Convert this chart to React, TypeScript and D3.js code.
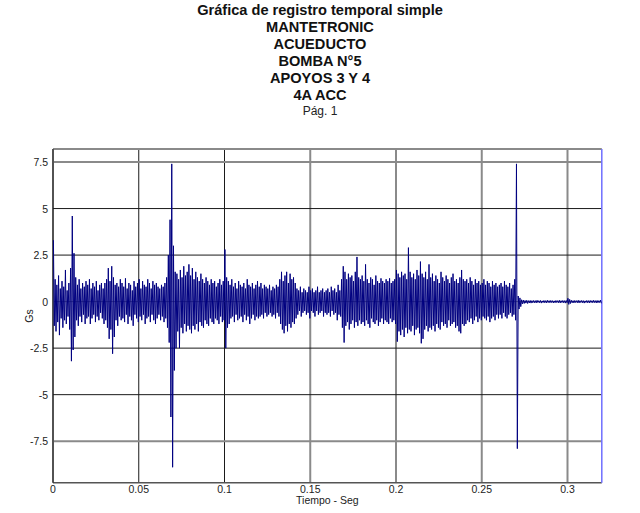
import React from "react";
import * as d3 from "d3";

const titleLines = [
  "Gráfica de registro temporal simple",
  "MANTETRONIC",
  "ACUEDUCTO",
  "BOMBA N°5",
  "APOYOS 3 Y 4",
  "4A ACC",
];
const pageLabel = "Pág. 1";
const xLabel = "Tiempo - Seg";
const yLabel = "Gs";

const xTicks = [0, 0.05, 0.1, 0.15, 0.2, 0.25, 0.3];
const xTickLabels = ["0", "0.05", "0.1", "0.15", "0.2", "0.25", "0.3"];
const yTicks = [7.5, 5, 2.5, 0, -2.5, -5, -7.5];
const yTickLabels = ["7.5", "5", "2.5", "0", "-2.5", "-5", "-7.5"];

// sample bin width (s)
const binWidth = 0.001;

// positive peaks per 1 ms bin
const peakHigh = [
  3.3, 1.2, 0.9, 1.4, 0.7, 1.1, 0.8, 1.7, 0.6, 1.0, 1.8, 4.6, 2.6, 1.3, 0.9, 1.2, 0.7, 1.0, 0.8, 1.1,
  0.9, 1.2, 0.7, 1.0, 0.8, 1.1, 0.6, 0.9, 1.0, 0.7, 1.0, 1.2, 1.8, 1.1, 1.9, 1.3, 0.9, 1.0, 0.8, 1.2,
  1.0, 0.8, 1.25, 0.7, 1.0, 0.9, 0.6, 1.1, 0.8, 1.0, 1.2, 0.7, 1.1, 0.9, 0.8, 1.2, 1.0, 0.7, 1.1, 0.9,
  1.0, 0.8, 0.7, 0.9, 0.8, 1.0, 1.3, 2.5, 4.4, 7.4, 3.0, 1.6, 1.5, 1.2, 1.7, 1.3, 1.9, 1.4, 1.6, 2.0,
  1.4, 1.8, 1.2, 1.6, 1.3, 1.1, 1.5, 1.2, 1.0, 1.3, 1.1, 0.9, 1.2, 1.0, 1.1, 0.8, 1.0, 1.2, 0.9, 1.1,
  2.8, 1.3, 1.1, 0.9, 1.2, 0.8, 1.0, 0.7, 1.1, 0.9, 0.8, 1.0, 0.7, 1.2, 0.9, 0.8, 1.0, 0.7, 0.9, 1.1,
  0.8, 1.0, 0.7, 0.9, 0.8, 0.7, 0.9, 0.6, 0.8, 0.7, 0.9, 0.8, 1.2, 1.6, 1.1, 1.4, 1.6, 1.0, 1.5, 1.2,
  1.3, 1.0, 0.7, 0.6, 0.8, 0.5, 0.7, 0.6, 0.5, 0.8, 0.6, 0.7, 0.5, 0.6, 0.8, 0.5, 0.6, 0.7, 0.5, 0.6,
  0.7, 0.5, 0.8, 0.6, 0.7, 0.5, 0.9, 0.6, 1.2, 1.9, 1.6, 1.2, 1.5, 1.3, 1.4, 1.1, 1.6, 2.4, 1.3, 1.2,
  1.4, 1.1, 2.0, 1.2, 1.0, 1.3, 1.2, 0.9, 1.4, 1.1, 1.0, 1.25, 1.1, 1.0, 1.2, 1.1, 1.25, 1.0, 1.1, 1.2,
  1.7, 1.5, 1.3, 1.6, 1.4, 1.5, 1.2, 2.9, 1.6, 1.3, 1.5, 1.2, 1.7, 1.4, 2.15, 1.5, 1.3, 1.6, 1.2, 2.0,
  1.3, 1.5, 1.1, 1.4, 1.2, 1.0, 1.6, 1.3, 1.1, 1.4, 1.2, 1.0, 1.3, 1.5, 1.1, 1.2, 1.0, 1.3, 1.7, 1.2,
  1.1, 1.2, 1.0, 1.3, 1.1, 0.9, 1.2, 1.0, 1.1, 0.9, 1.0, 1.2, 0.9, 1.1, 1.0, 0.8, 1.1, 0.9, 1.0, 0.8,
  0.9, 1.0, 0.8, 1.1, 0.9, 0.8, 1.0, 0.7, 0.9, 1.2, 7.4, 0.3, 0.2, 0.1, 0.08, 0.06, 0.07, 0.05, 0.06, 0.05,
  0.06, 0.05, 0.07, 0.05, 0.06, 0.04, 0.06, 0.05, 0.07, 0.05, 0.06, 0.05, 0.04, 0.06, 0.05, 0.07, 0.05, 0.06, 0.05, 0.06,
  0.18, 0.12, 0.07, 0.05, 0.06, 0.05, 0.07, 0.05, 0.06, 0.05, 0.04, 0.06, 0.05, 0.06, 0.05, 0.07, 0.05, 0.06, 0.05, 0.08,
];

// negative peaks per 1 ms bin
const peakLow = [
  -1.3, -1.6, -1.1, -1.8, -0.9, -1.4, -1.0, -1.2, -0.8, -1.5, -3.2, -2.6, -1.9, -1.0, -1.3, -0.8, -1.1, -0.7, -1.2, -0.9,
  -0.8, -1.2, -0.9, -0.7, -1.1, -0.8, -1.0, -0.6, -0.9, -1.2, -1.0, -1.4, -2.0, -1.5, -2.8, -1.9, -1.0, -1.3, -0.8, -1.0,
  -0.9, -1.1, -0.7, -1.2, -0.8, -1.0, -1.3, -0.7, -0.9, -1.1, -0.8, -1.0, -0.7, -1.2, -0.9, -0.8, -1.1, -0.7, -1.0, -1.2,
  -0.9, -0.7, -1.0, -0.8, -1.1, -0.9, -1.4, -2.2, -6.2, -8.9, -3.7, -2.5, -1.6, -2.5, -1.4, -1.7, -1.2, -1.6, -1.3, -1.5,
  -1.7, -1.3, -1.5, -1.2, -1.6, -1.1, -1.3, -1.4, -1.0, -1.2, -1.3, -0.9, -1.1, -1.2, -0.9, -1.0, -1.2, -0.8, -1.1, -1.0,
  -2.5, -1.4, -1.2, -0.9, -0.8, -1.1, -0.7, -1.0, -0.9, -0.8, -1.1, -0.7, -1.0, -0.8, -1.2, -0.9, -0.7, -1.0, -0.8, -0.9,
  -0.8, -0.7, -0.9, -0.6, -0.8, -0.7, -0.6, -0.8, -0.7, -0.9, -0.6, -0.8, -1.2, -1.5, -1.7, -1.3, -1.6, -1.2, -1.4, -1.1,
  -1.2, -0.9, -0.7, -0.5, -0.8, -0.6, -0.5, -0.7, -0.6, -0.9, -0.5, -0.6, -0.8, -0.5, -0.7, -0.6, -0.5, -0.8, -0.6, -0.7,
  -0.6, -0.8, -0.5, -0.7, -0.6, -1.0, -0.7, -0.8, -1.4, -2.2, -1.3, -1.1, -1.5, -1.2, -1.0, -1.4, -1.1, -1.3, -1.0, -1.2,
  -1.1, -1.3, -1.0, -1.2, -1.4, -0.9, -1.1, -1.2, -1.0, -1.3, -1.1, -0.9, -1.2, -1.0, -1.1, -1.2, -0.9, -1.1, -1.0, -1.2,
  -2.15, -1.6, -1.8, -1.5, -1.9, -1.4, -1.7, -1.5, -1.6, -1.3, -1.8, -1.5, -1.4, -1.7, -2.24, -2.0, -1.5, -1.3, -1.6, -1.4,
  -1.5, -1.3, -1.6, -1.2, -1.4, -1.5, -1.1, -1.3, -1.2, -1.4, -1.0, -1.3, -1.2, -1.1, -1.4, -1.3, -1.6, -1.7, -1.2, -1.3,
  -1.2, -1.0, -1.1, -0.9, -1.2, -1.0, -0.8, -1.1, -0.9, -1.0, -0.8, -0.9, -1.0, -0.8, -1.1, -0.9, -0.8, -1.0, -0.7, -0.9,
  -0.7, -0.9, -0.6, -0.8, -0.9, -0.7, -0.6, -0.8, -0.7, -1.0, -7.9, -0.4, -0.27, -0.12, -0.1, -0.08, -0.1, -0.07, -0.08, -0.06,
  -0.06, -0.07, -0.05, -0.06, -0.08, -0.05, -0.06, -0.07, -0.05, -0.06, -0.05, -0.07, -0.06, -0.05, -0.06, -0.07, -0.05, -0.06, -0.08, -0.06,
  -0.15, -0.1, -0.06, -0.07, -0.05, -0.06, -0.07, -0.05, -0.06, -0.08, -0.05, -0.06, -0.07, -0.05, -0.06, -0.05, -0.07, -0.06, -0.05, -0.09,
];

const darkX = [0.05, 0.1];
const darkY = [5, 2.5, -2.5, -5];

const W = 640;
const H = 513;
const FONT = "'Liberation Sans', Arial, sans-serif";

export default function App() {
  const x = d3.scaleLinear().domain([0, 0.32]).range([53, 601.8]);
  const y = d3.scaleLinear().domain([-9.73, 8.2]).range([482.7, 149]);

  const pts: [number, number][] = [];
  peakHigh.forEach((h, i) => {
    pts.push([i * binWidth + binWidth * 0.25, h]);
    pts.push([i * binWidth + binWidth * 0.75, peakLow[i]]);
  });
  const line = d3
    .line<[number, number]>()
    .x((d) => x(d[0]))
    .y((d) => y(d[1]));

  const [x0, x1] = x.range();
  const [yb, yt] = y.range();

  return (
    <div style={{ position: "fixed", left: 0, top: 0, width: W, height: H, background: "#fff" }}>
      <svg width={W} height={H} style={{ display: "block" }}>
        <rect x={0} y={0} width={W} height={H} fill="#fff" />
        {titleLines.map((t, i) => (
          <text
            key={t}
            x={320}
            y={14.5 + i * 17}
            textAnchor="middle"
            fontFamily={FONT}
            fontWeight="bold"
            fontSize={14.6}
            fill="#111"
          >
            {t}
          </text>
        ))}
        <text x={320} y={115} textAnchor="middle" fontFamily={FONT} fontSize={12} fill="#222">
          {pageLabel}
        </text>

        {/* grid */}
        {xTicks.map((t) => {
          const dark = darkX.includes(t);
          return (
            <line
              key={"gx" + t}
              x1={x(t)}
              x2={x(t)}
              y1={yt}
              y2={yb}
              stroke={dark ? "#1a1a1a" : "#8a8a8a"}
              strokeWidth={dark ? 1 : 2}
            />
          );
        })}
        {yTicks.map((t) => {
          const dark = darkY.includes(t);
          return (
            <line
              key={"gy" + t}
              x1={x0}
              x2={x1}
              y1={y(t)}
              y2={y(t)}
              stroke={dark ? "#1a1a1a" : "#8a8a8a"}
              strokeWidth={dark ? 1 : t === 0 ? 1 : 2}
            />
          );
        })}
        {/* borders */}
        <line x1={x0} x2={x1} y1={yt} y2={yt} stroke="#8a8a8a" strokeWidth={2} />
        <line x1={x0} x2={x1} y1={yb} y2={yb} stroke="#555" strokeWidth={1.5} />
        <line x1={x0} x2={x0} y1={yt} y2={yb} stroke="#1a1a1a" strokeWidth={1} />
        <line x1={x1} x2={x1} y1={yt} y2={yb} stroke="#6f6fff" strokeWidth={1.5} />

        {/* signal */}
        <path d={line(pts) || ""} fill="none" stroke="#000080" strokeWidth={1} strokeLinejoin="round" />

        {/* tick labels */}
        {yTicks.map((t, i) => (
          <text
            key={"ty" + t}
            x={48}
            y={y(t) + 4}
            textAnchor="end"
            fontFamily={FONT}
            fontSize={10.5}
            fill="#222"
          >
            {yTickLabels[i]}
          </text>
        ))}
        {xTicks.map((t, i) => (
          <text
            key={"tx" + t}
            x={x(t)}
            y={493}
            textAnchor="middle"
            fontFamily={FONT}
            fontSize={10.5}
            fill="#222"
          >
            {xTickLabels[i]}
          </text>
        ))}
        <text x={(x0 + x1) / 2} y={504} textAnchor="middle" fontFamily={FONT} fontSize={10.5} fill="#222">
          {xLabel}
        </text>
        <text
          transform={`translate(33,316) rotate(-90)`}
          textAnchor="middle"
          fontFamily={FONT}
          fontSize={10.5}
          fill="#222"
        >
          {yLabel}
        </text>
      </svg>
    </div>
  );
}
